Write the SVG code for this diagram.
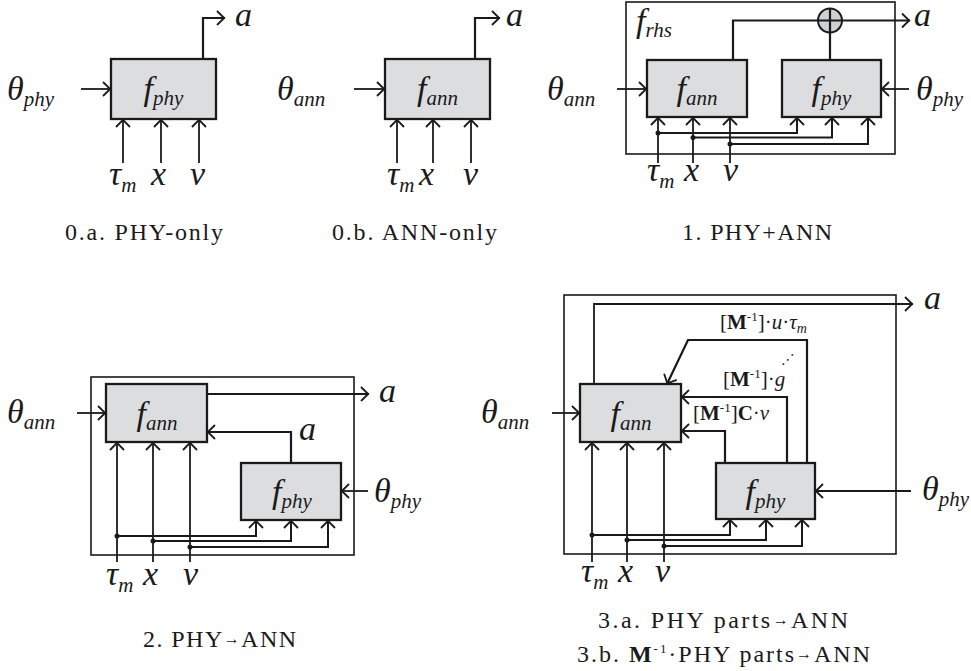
<svg xmlns="http://www.w3.org/2000/svg" width="971" height="671" viewBox="0 0 971 671">
<style>
.box{fill:#dcdddf;stroke:#1a1a1a;stroke-width:2.3}
.frame{fill:none;stroke:#1a1a1a;stroke-width:1.6}
.ln{fill:none;stroke:#1a1a1a;stroke-width:1.8}
.th{fill:none;stroke:#1a1a1a;stroke-width:2.2}
.bus{fill:none;stroke:#1a1a1a;stroke-width:2}
.arr{marker-end:url(#ah)}
.dot{fill:#1a1a1a}
text{fill:#1a1a1a}
.m{font-family:"Liberation Serif","DejaVu Serif",serif;font-style:italic;font-size:34px}
.s{font-size:21px}
.cap{font-family:"Liberation Serif","DejaVu Serif",serif;font-size:24px}
.lab{font-family:"Liberation Serif","DejaVu Serif",serif;font-size:21px}
.b{font-weight:bold}
.i{font-style:italic}
</style>
<defs>
<marker id="ah" markerUnits="userSpaceOnUse" markerWidth="16" markerHeight="18" viewBox="-12 -9 14 18" refX="0" refY="0" orient="auto" overflow="visible">
<path d="M-8,-7 L-0.8,0 L-8,7" fill="none" stroke="#1a1a1a" stroke-width="1.8"/>
</marker>
</defs>

<!-- ===== 0.a PHY-only ===== -->
<g id="d0a-fphy">
<rect class="box" x="111" y="59" width="105" height="60"/>
<text class="m" x="163.5" y="100" text-anchor="middle">f<tspan class="s" dy="5">phy</tspan></text>
</g>
<g id="d0a-labels">
<text class="m" x="235" y="26">a</text>
<text class="m" x="7" y="100">θ<tspan class="s" dy="6">phy</tspan></text>
<text class="m" x="109" y="185">τ<tspan class="s" dy="7">m</tspan></text>
<text class="m" x="151" y="185">x</text>
<text class="m" x="190" y="185">v</text>
<text class="cap" x="65" y="240" textLength="158" lengthAdjust="spacing">0.a. PHY-only</text>
</g>

<!-- ===== 0.b ANN-only ===== -->
<g id="d0b-fann">
<rect class="box" x="385" y="59" width="105" height="60"/>
<text class="m" x="437.5" y="100" text-anchor="middle">f<tspan class="s" dy="5">ann</tspan></text>
</g>
<g id="d0b-labels">
<text class="m" x="506" y="26">a</text>
<text class="m" x="277" y="100">θ<tspan class="s" dy="6">ann</tspan></text>
<text class="m" x="387" y="185">τ<tspan class="s" dy="7">m</tspan></text>
<text class="m" x="419" y="185">x</text>
<text class="m" x="463" y="185">v</text>
<text class="cap" x="332" y="240" textLength="165" lengthAdjust="spacing">0.b. ANN-only</text>
</g>

<!-- ===== 1. PHY+ANN ===== -->
<g id="d1-frhs">
<rect class="frame" x="626" y="2" width="269" height="152"/>
<text class="m" x="636" y="32">f<tspan class="s" dy="5">rhs</tspan></text>
</g>
<g id="d1-fann">
<rect class="box" x="647" y="60" width="100" height="57"/>
<text class="m" x="697" y="100" text-anchor="middle">f<tspan class="s" dy="5">ann</tspan></text>
</g>
<g id="d1-fphy">
<rect class="box" x="782" y="60" width="99" height="57"/>
<text class="m" x="831.5" y="100" text-anchor="middle">f<tspan class="s" dy="5">phy</tspan></text>
</g>
<g id="d1-sum">
<circle cx="830" cy="20.5" r="12" fill="#cfd0d2" stroke="#1a1a1a" stroke-width="2"/>
</g>
<g id="d1-labels">
<text class="m" x="914" y="26">a</text>
<text class="m" x="547" y="100">θ<tspan class="s" dy="6">ann</tspan></text>
<text class="m" x="916" y="100">θ<tspan class="s" dy="6">phy</tspan></text>
<text class="m" x="647" y="181">τ<tspan class="s" dy="7">m</tspan></text>
<text class="m" x="684" y="181">x</text>
<text class="m" x="723" y="181">v</text>
<text class="cap" x="682" y="240" textLength="150" lengthAdjust="spacing">1. PHY+ANN</text>
</g>

<!-- ===== 2. PHY->ANN ===== -->
<g id="d2-frame"><rect class="frame" x="91" y="377" width="263" height="178"/></g>
<g id="d2-fann">
<rect class="box" x="106" y="384" width="101" height="58"/>
<text class="m" x="157" y="425" text-anchor="middle">f<tspan class="s" dy="5">ann</tspan></text>
</g>
<g id="d2-fphy">
<rect class="box" x="241" y="463" width="100" height="57"/>
<text class="m" x="292" y="503" text-anchor="middle">f<tspan class="s" dy="5">phy</tspan></text>
</g>
<g id="d2-labels">
<text class="m" x="379" y="402">a</text>
<text class="m" x="299" y="440">a</text>
<text class="m" x="7" y="423">θ<tspan class="s" dy="6">ann</tspan></text>
<text class="m" x="374" y="502">θ<tspan class="s" dy="6">phy</tspan></text>
<text class="m" x="106" y="585">τ<tspan class="s" dy="7">m</tspan></text>
<text class="m" x="143" y="585">x</text>
<text class="m" x="183" y="585">v</text>
<text class="cap" x="143" y="647" textLength="153" lengthAdjust="spacing">2. PHY<tspan font-size="16" dy="-3">→</tspan><tspan dy="3">ANN</tspan></text>
</g>

<!-- ===== 3. PHY parts->ANN ===== -->
<g id="d3-frame"><rect class="frame" x="564" y="295" width="332" height="259"/></g>
<g id="d3-fann">
<rect class="box" x="580" y="384" width="101" height="58"/>
<text class="m" x="631" y="425" text-anchor="middle">f<tspan class="s" dy="5">ann</tspan></text>
</g>
<g id="d3-fphy">
<rect class="box" x="716" y="463" width="99" height="56"/>
<text class="m" x="765.5" y="503" text-anchor="middle">f<tspan class="s" dy="5">phy</tspan></text>
</g>
<g id="d3-labels">
<text class="m" x="924" y="309">a</text>
<text class="m" x="481" y="423">θ<tspan class="s" dy="6">ann</tspan></text>
<text class="m" x="922" y="500">θ<tspan class="s" dy="6">phy</tspan></text>
<text class="m" x="581" y="582">τ<tspan class="s" dy="7">m</tspan></text>
<text class="m" x="618" y="582">x</text>
<text class="m" x="655" y="582">v</text>
<text class="lab" x="720" y="329">[<tspan class="b">M</tspan><tspan font-size="13" dy="-8">-1</tspan><tspan dy="8">]·</tspan><tspan class="i">u</tspan>·<tspan class="i">τ</tspan><tspan class="i" font-size="14" dy="4">m</tspan></text>
<text font-family="DejaVu Sans,sans-serif" font-size="14" x="788" y="364" text-anchor="middle">⋰</text>
<text class="lab" x="723" y="386">[<tspan class="b">M</tspan><tspan font-size="13" dy="-8">-1</tspan><tspan dy="8">]·</tspan><tspan class="i">g</tspan></text>
<text class="lab" x="693" y="420">[<tspan class="b">M</tspan><tspan font-size="13" dy="-8">-1</tspan><tspan dy="8">]</tspan><tspan class="b">C</tspan>·<tspan class="i">v</tspan></text>
<text class="cap" x="598" y="628" textLength="250" lengthAdjust="spacing">3.a.  PHY parts<tspan font-size="16" dy="-3">→</tspan><tspan dy="3">ANN</tspan></text>
<text class="cap" x="577" y="662" textLength="293" lengthAdjust="spacing">3.b.  <tspan class="b">M</tspan><tspan font-size="13" dy="-9">-1</tspan><tspan dy="9">·PHY parts</tspan><tspan font-size="16" dy="-3">→</tspan><tspan dy="3">ANN</tspan></text>
</g>

<!-- ===== connectors ===== -->
<g id="connectors">
<!-- 0.a -->
<path class="th arr" d="M203,59 V18 H225"/>
<path class="ln arr" d="M81,89 H111"/>
<path class="ln arr" d="M123,163 V119"/>
<path class="ln arr" d="M161,163 V119"/>
<path class="ln arr" d="M199,163 V119"/>
<!-- 0.b -->
<path class="th arr" d="M475,59 V18 H500"/>
<path class="ln arr" d="M354,89 H385"/>
<path class="ln arr" d="M397,163 V119"/>
<path class="ln arr" d="M433,163 V119"/>
<path class="ln arr" d="M471,163 V119"/>
<!-- 1 -->
<path class="th" d="M733,60 V20.5 H818"/>
<path class="ln arr" d="M818,20.5 H910"/>
<path class="th" d="M830,60 V8.5"/>
<path class="ln arr" d="M617,89 H647"/>
<path class="ln arr" d="M909,89 H881"/>
<path class="ln arr" d="M658,163 V117"/>
<path class="ln arr" d="M693,163 V117"/>
<path class="ln arr" d="M730,163 V117"/>
<path class="bus arr" d="M658,133 H797 V117"/>
<path class="bus arr" d="M693,137.5 H832 V117"/>
<path class="bus arr" d="M730,144 H868 V117"/>
<circle class="dot" cx="658" cy="133" r="2.5"/>
<circle class="dot" cx="693" cy="137.5" r="2.5"/>
<circle class="dot" cx="730" cy="144" r="2.5"/>
<!-- 2 -->
<path class="ln arr" d="M207,394 H369"/>
<path class="th arr" d="M291,463 V432 H207"/>
<path class="ln arr" d="M77,413 H106"/>
<path class="ln arr" d="M368,491 H341"/>
<path class="ln arr" d="M117,562 V442"/>
<path class="ln arr" d="M153,562 V442"/>
<path class="ln arr" d="M190,562 V442"/>
<path class="bus arr" d="M117,536 H256 V520"/>
<path class="bus arr" d="M153,541 H291 V520"/>
<path class="bus arr" d="M190,547 H328 V520"/>
<circle class="dot" cx="117" cy="536" r="2.5"/>
<circle class="dot" cx="153" cy="541" r="2.5"/>
<circle class="dot" cx="190" cy="547" r="2.5"/>
<!-- 3 -->
<path class="ln arr" d="M594,384 V304 H913"/>
<path class="th arr" d="M807,463 V340 H688 L667,384"/>
<path class="th arr" d="M787,463 V397 H681"/>
<path class="th arr" d="M725,463 V431 H681"/>
<path class="ln arr" d="M552,413 H580"/>
<path class="ln arr" d="M911,491 H815"/>
<path class="ln arr" d="M592,562 V442"/>
<path class="ln arr" d="M627,562 V442"/>
<path class="ln arr" d="M664,562 V442"/>
<path class="bus arr" d="M592,535 H730 V519"/>
<path class="bus arr" d="M627,540 H766 V519"/>
<path class="bus arr" d="M664,546 H802 V519"/>
<circle class="dot" cx="592" cy="535" r="2.5"/>
<circle class="dot" cx="627" cy="540" r="2.5"/>
<circle class="dot" cx="664" cy="546" r="2.5"/>
</g>
</svg>
